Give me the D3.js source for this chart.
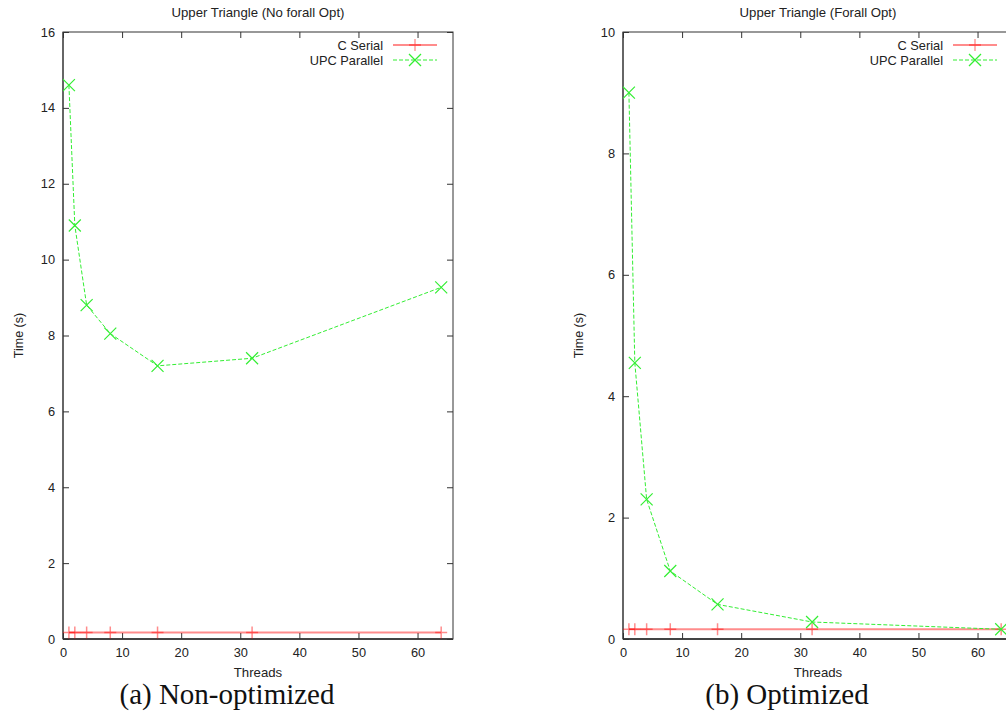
<!DOCTYPE html>
<html><head><meta charset="utf-8">
<script src="https://cdn.jsdelivr.net/npm/d3@7"></script>
<style>body{margin:0;background:#fff}svg{display:block}</style>
</head><body>
<svg id="c" width="1006" height="713"></svg>
<script>
const threads = [1, 2, 4, 8, 16, 32, 64];
const serialA = [0.17, 0.17, 0.17, 0.17, 0.17, 0.17, 0.17];
const upcA = [14.6, 10.9, 8.8, 8.05, 7.2, 7.4, 9.27];
const serialB = [0.16, 0.16, 0.16, 0.16, 0.16, 0.16, 0.16];
const upcB = [9.0, 4.55, 2.3, 1.12, 0.57, 0.28, 0.16];
const xTicks = [0, 10, 20, 30, 40, 50, 60];
const yTicksA = [0, 2, 4, 6, 8, 10, 12, 14, 16];
const yTicksB = [0, 2, 4, 6, 8, 10];
const titles = ["Upper Triangle (No forall Opt)", "Upper Triangle (Forall Opt)"];
const captions = ["(a) Non-optimized", "(b) Optimized"];
const seriesNames = ["C Serial", "UPC Parallel"];

const svg = d3.select("#c");
const sans = "Liberation Sans, Arial, sans-serif";

function panel(ox, title, caption, serial, upc, yTicks, yMax) {
  const L = ox + 63, R = ox + 453, T = 32, B = 639;
  const x = d3.scaleLinear().domain([0, 66]).range([L, R]);
  const y = d3.scaleLinear().domain([0, yMax]).range([B, T]);
  const g = svg.append("g");

  // frame
  g.append("rect").attr("x", L).attr("y", T).attr("width", R - L).attr("height", B - T)
    .attr("fill", "none").attr("stroke", "#333").attr("stroke-width", 1);
  g.append("line").attr("x1", L).attr("x2", L).attr("y1", T).attr("y2", B).attr("stroke", "#666").attr("stroke-width", 2);
  g.append("line").attr("x1", L).attr("x2", R).attr("y1", B).attr("y2", B).attr("stroke", "#444").attr("stroke-width", 2);

  const style = sel => {
    sel.select(".domain").remove();
    sel.selectAll(".tick line").attr("stroke", "#333");
    sel.selectAll("text").attr("font-family", sans).attr("font-size", 12.8).attr("fill", "#222");
  };
  g.append("g").attr("transform", `translate(0,${B})`)
    .call(d3.axisBottom(x).tickValues(xTicks).tickSizeInner(-6).tickSizeOuter(0).tickPadding(9))
    .call(style);
  g.append("g").attr("transform", `translate(0,${T})`)
    .call(d3.axisTop(x).tickValues(xTicks).tickSizeInner(-6).tickSizeOuter(0).tickFormat(""))
    .call(style);
  g.append("g").attr("transform", `translate(${L},0)`)
    .call(d3.axisLeft(y).tickValues(yTicks).tickSizeInner(-6).tickSizeOuter(0).tickPadding(8))
    .call(style);
  g.append("g").attr("transform", `translate(${R},0)`)
    .call(d3.axisRight(y).tickValues(yTicks).tickSizeInner(-6).tickSizeOuter(0).tickFormat(""))
    .call(style);

  // titles & labels
  g.append("text").attr("x", (L + R) / 2).attr("y", 17).attr("text-anchor", "middle")
    .attr("font-family", sans).attr("font-size", 13.2).attr("fill", "#222").text(title);
  g.append("text").attr("x", (L + R) / 2).attr("y", 677).attr("text-anchor", "middle")
    .attr("font-family", sans).attr("font-size", 13.2).attr("fill", "#222").text("Threads");
  g.append("text").attr("transform", `translate(${ox + 23},${(T + B) / 2}) rotate(-90)`)
    .attr("text-anchor", "middle").attr("font-family", sans).attr("font-size", 12.5).attr("fill", "#222").text("Time (s)");
  g.append("text").attr("x", (L + R) / 2 - 31).attr("y", 704).attr("text-anchor", "middle")
    .attr("font-family", "Liberation Serif, Times New Roman, serif").attr("font-size", 29).attr("fill", "#111").text(caption);

  const redC = "rgba(255,0,0,0.45)";
  const greenC = "#33ee33";
  const line = d3.line().x(d => x(d[0])).y(d => y(d[1]));
  const sData = threads.map((t, i) => [t, serial[i]]);
  const uData = threads.map((t, i) => [t, upc[i]]);

  const clip = "clip" + ox;
  svg.append("clipPath").attr("id", clip).append("rect").attr("x", L).attr("y", T).attr("width", R - L).attr("height", B - T);
  const pg = g.append("g").attr("clip-path", `url(#${clip})`);

  pg.append("path").datum(sData).attr("d", line).attr("fill", "none").attr("stroke", redC).attr("stroke-width", 2);
  const s = 6;
  pg.selectAll(".plus").data(sData).enter().append("path")
    .attr("d", d => `M${x(d[0]) - s},${y(d[1])}H${x(d[0]) + s}M${x(d[0])},${y(d[1]) - s}V${y(d[1]) + s}`)
    .attr("stroke", redC).attr("stroke-width", 1.5).attr("fill", "none");

  pg.append("path").datum(uData).attr("d", line).attr("fill", "none").attr("stroke", greenC)
    .attr("stroke-width", 1).attr("stroke-dasharray", "4,2");
  pg.selectAll(".cross").data(uData).enter().append("path")
    .attr("d", d => `M${x(d[0]) - s},${y(d[1]) - s}L${x(d[0]) + s},${y(d[1]) + s}M${x(d[0]) - s},${y(d[1]) + s}L${x(d[0]) + s},${y(d[1]) - s}`)
    .attr("stroke", greenC).attr("stroke-width", 1.2).attr("fill", "none");

  // legend
  const lx = ox + 383, ly = [45, 60];
  [[seriesNames[0], redC, null, "plus", 2], [seriesNames[1], greenC, "4,2", "cross", 1]].forEach((it, i) => {
    g.append("text").attr("x", lx).attr("y", ly[i] + 4.5).attr("text-anchor", "end")
      .attr("font-family", sans).attr("font-size", 12.8).attr("fill", "#222").text(it[0]);
    g.append("line").attr("x1", lx + 10).attr("x2", lx + 54).attr("y1", ly[i]).attr("y2", ly[i])
      .attr("stroke", it[1]).attr("stroke-width", it[4]).attr("stroke-dasharray", it[2]);
    const cx = lx + 32, cy = ly[i];
    g.append("path").attr("d", it[3] === "plus"
        ? `M${cx - s},${cy}H${cx + s}M${cx},${cy - s}V${cy + s}`
        : `M${cx - s},${cy - s}L${cx + s},${cy + s}M${cx - s},${cy + s}L${cx + s},${cy - s}`)
      .attr("stroke", it[1]).attr("stroke-width", 1.3).attr("fill", "none");
  });
}

panel(0, titles[0], captions[0], serialA, upcA, yTicksA, 16);
panel(560, titles[1], captions[1], serialB, upcB, yTicksB, 10);
</script>
</body></html>
